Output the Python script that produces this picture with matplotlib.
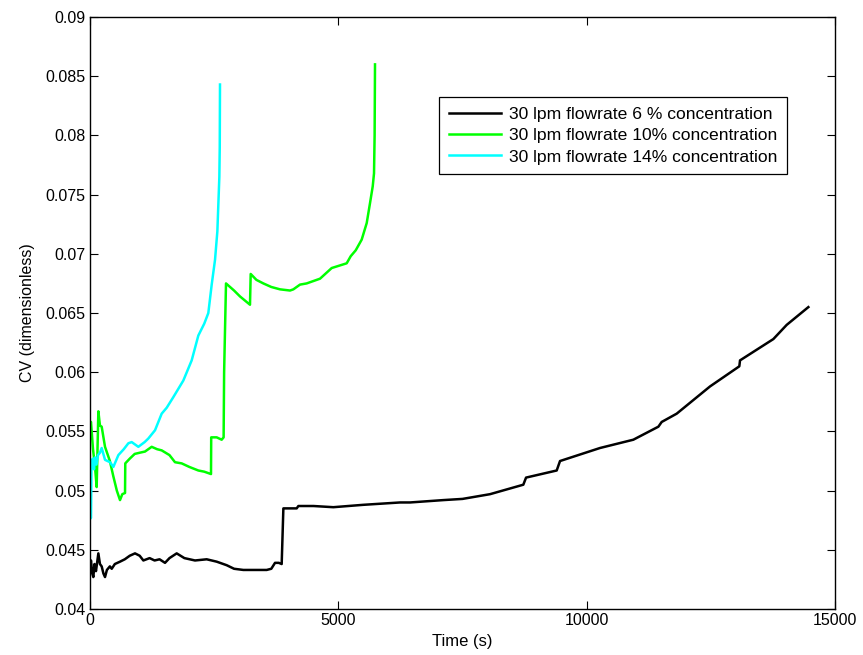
import matplotlib
matplotlib.use("Agg")
import matplotlib.pyplot as plt
from matplotlib.ticker import FormatStrFormatter

plt.rcParams['font.family'] = ['Liberation Sans', 'DejaVu Sans']

# 30 lpm, 6 % concentration (black)
time_06 = [0, 20, 45, 67, 90, 120, 168, 200, 235, 270, 302, 340, 400, 437, 500, 604, 700, 800, 906, 1000,
           1074, 1200, 1300, 1400, 1510, 1600, 1745, 1900, 2114, 2349, 2550, 2752, 2900, 3087, 3300, 3557,
           3650, 3725, 3800, 3859, 3893, 3950, 4161, 4195, 4500, 4899, 5500, 6243, 6443, 7114, 7500, 8054,
           8724, 8779, 9396, 9463, 10268, 10939, 11443, 11510, 11812, 12483, 13073, 13087, 13758, 14027, 14463]
cv_06 = [0.0436, 0.0441, 0.0430, 0.0427, 0.0438, 0.0432, 0.0447, 0.0438, 0.0436, 0.0430, 0.0427, 0.0433,
         0.0436, 0.0434, 0.0438, 0.0440, 0.0442, 0.0445, 0.0447, 0.0445, 0.0441, 0.0443, 0.0441, 0.0442,
         0.0439, 0.0443, 0.0447, 0.0443, 0.0441, 0.0442, 0.0440, 0.0437, 0.0434, 0.0433, 0.0433, 0.0433,
         0.0434, 0.0439, 0.0439, 0.0438, 0.0485, 0.0485, 0.0485, 0.0487, 0.0487, 0.0486, 0.0488, 0.0490,
         0.0490, 0.0492, 0.0493, 0.0497, 0.0505, 0.0511, 0.0517, 0.0525, 0.0536, 0.0543, 0.0554, 0.0558,
         0.0565, 0.0588, 0.0605, 0.0610, 0.0628, 0.0640, 0.0655]

# 30 lpm, 10 % concentration (green)
time_10 = [0, 20, 60, 101, 134, 168, 200, 235, 302, 400, 470, 540, 604, 650, 705, 710, 800, 900, 1000, 1107,
           1242, 1350, 1443, 1600, 1711, 1846, 2000, 2181, 2300, 2436, 2440, 2550, 2651, 2690, 2700, 2738,
           2900, 3020, 3221, 3235, 3350, 3490, 3650, 3826, 4027, 4094, 4228, 4362, 4631, 4866, 5168, 5249,
           5350, 5470, 5571, 5638, 5692, 5718, 5730, 5738]
cv_10 = [0.0556, 0.0558, 0.0535, 0.0520, 0.0503, 0.0567, 0.0555, 0.0554, 0.0537, 0.0525, 0.0512, 0.0500,
         0.0492, 0.0497, 0.0498, 0.0523, 0.0527, 0.0531, 0.0532, 0.0533, 0.0537, 0.0535, 0.0534, 0.0530,
         0.0524, 0.0523, 0.0520, 0.0517, 0.0516, 0.0514, 0.0545, 0.0545, 0.0543, 0.0545, 0.0600, 0.0675,
         0.0669, 0.0664, 0.0657, 0.0683, 0.0678, 0.0675, 0.0672, 0.0670, 0.0669, 0.0670, 0.0674, 0.0675,
         0.0679, 0.0688, 0.0692, 0.0698, 0.0703, 0.0712, 0.0726, 0.0743, 0.0757, 0.0768, 0.0800, 0.0860]

# 30 lpm, 14 % concentration (cyan)
time_14 = [0, 20, 30, 40, 60, 80, 100, 130, 160, 200, 235, 302, 403, 470, 571, 680, 772, 839, 973, 1100,
           1174, 1309, 1443, 1544, 1678, 1879, 2047, 2181, 2300, 2382, 2450, 2517, 2564, 2604, 2612, 2617]
cv_14 = [0.0476, 0.0477, 0.0526, 0.0520, 0.0527, 0.0518, 0.0528, 0.0522, 0.0530, 0.0532, 0.0536, 0.0526,
         0.0524, 0.0520, 0.0530, 0.0535, 0.0540, 0.0541, 0.0537, 0.0541, 0.0544, 0.0551, 0.0565, 0.0570,
         0.0579, 0.0593, 0.0610, 0.0631, 0.0641, 0.0650, 0.0674, 0.0695, 0.0719, 0.0765, 0.0790, 0.0843]

labels = ['30 lpm flowrate 6 % concentration',
          '30 lpm flowrate 10% concentration',
          '30 lpm flowrate 14% concentration']

fig = plt.figure(figsize=(8.63, 6.55), dpi=100)
ax = fig.add_axes([0.1043, 0.0702, 0.8633, 0.9038])

ax.plot(time_06, cv_06, color='black', lw=1.8, label=labels[0])
ax.plot(time_10, cv_10, color='#00ff00', lw=1.8, label=labels[1])
ax.plot(time_14, cv_14, color='#00ffff', lw=1.8, label=labels[2])

ax.set_xlim(0, 15000)
ax.set_ylim(0.04, 0.09)
ax.set_xticks([0, 5000, 10000, 15000])
ax.set_yticks([0.04 + 0.005 * i for i in range(11)])
ax.yaxis.set_major_formatter(FormatStrFormatter('%g'))
ax.tick_params(direction='in', length=6, width=0.8, top=True, right=True, labelsize=11.5, pad=3)
for sp in ax.spines.values():
    sp.set_linewidth(1.0)

ax.set_xlabel('Time (s)', fontsize=12, labelpad=4)
ax.set_ylabel('CV (dimensionless)', fontsize=11.5, labelpad=8)

leg = ax.legend(loc='upper left', bbox_to_anchor=(0.4685, 0.865), fontsize=12.6, fancybox=False,
                framealpha=1, edgecolor='black', handlelength=3.0, borderpad=0.55, labelspacing=0.35,
                handletextpad=0.45, borderaxespad=0)
leg.get_frame().set_linewidth(0.9)

fig.savefig('out.png', dpi=100)
